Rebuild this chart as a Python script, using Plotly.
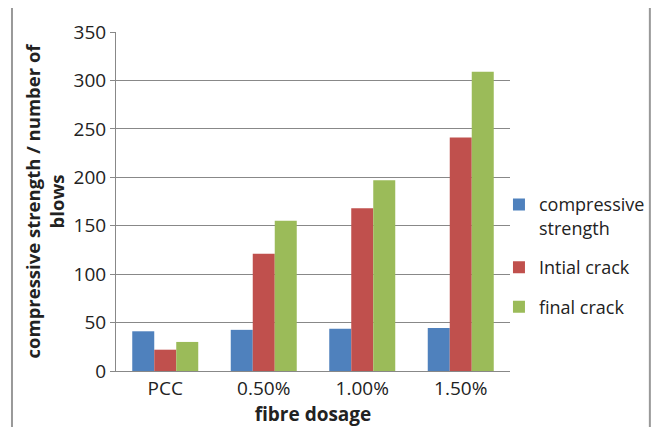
import plotly.graph_objects as go

categories = ["PCC", "0.50%", "1.00%", "1.50%"]
compressive = [41, 42.5, 43.5, 44.5]
initial_crack = [22, 121, 168, 241]
final_crack = [30, 155, 197, 309]
series_names = ["compressive<br>strength", "Intial crack", "final crack"]
colors = ["#4F81BD", "#C0504D", "#9BBB59"]

fig = go.Figure()
for i, (name, vals, col) in enumerate(zip(series_names, [compressive, initial_crack, final_crack], colors)):
    fig.add_trace(go.Bar(x=categories, y=vals, name=name, legendgroup=f"g{i}",
                         marker=dict(color=col, line=dict(width=0))))

font = "Open Sans"
fig.update_layout(
    width=654, height=419,
    margin=dict(l=108, r=152, t=24, b=56, autoexpand=False),
    paper_bgcolor="white", plot_bgcolor="white",
    barmode="group", bargap=0.33, bargroupgap=0,
    font=dict(family=font, size=19, color="#222"),
    legend=dict(x=0.972, y=0.34, xanchor="left", yanchor="middle", valign="top",
                font=dict(size=18, color="#222"), tracegroupgap=13,
                itemwidth=30, bgcolor="rgba(0,0,0,0)"),
    xaxis=dict(showline=True, linecolor="#888", linewidth=1, ticks="",
               tickfont=dict(size=19),
               title=dict(text="<b>fibre dosage</b>", font=dict(size=19), standoff=0)),
    yaxis=dict(range=[0, 350], dtick=50, showgrid=True, gridcolor="#888", gridwidth=1,
               showline=True, linecolor="#888", linewidth=1, ticks="outside", ticklen=5,
               tickcolor="#888", tickfont=dict(size=19), zeroline=False,
               title=dict(text="<b>compressive strength / number of<br>blows</b>", font=dict(size=18.5), standoff=4)),
    shapes=[dict(type="rect", xref="paper", yref="paper", x0=-0.264, x1=1.355, y0=-0.3, y1=1.077,
                 line=dict(color="#999", width=2), fillcolor="rgba(0,0,0,0)", layer="below")],
)
fig.write_html("out.html")
